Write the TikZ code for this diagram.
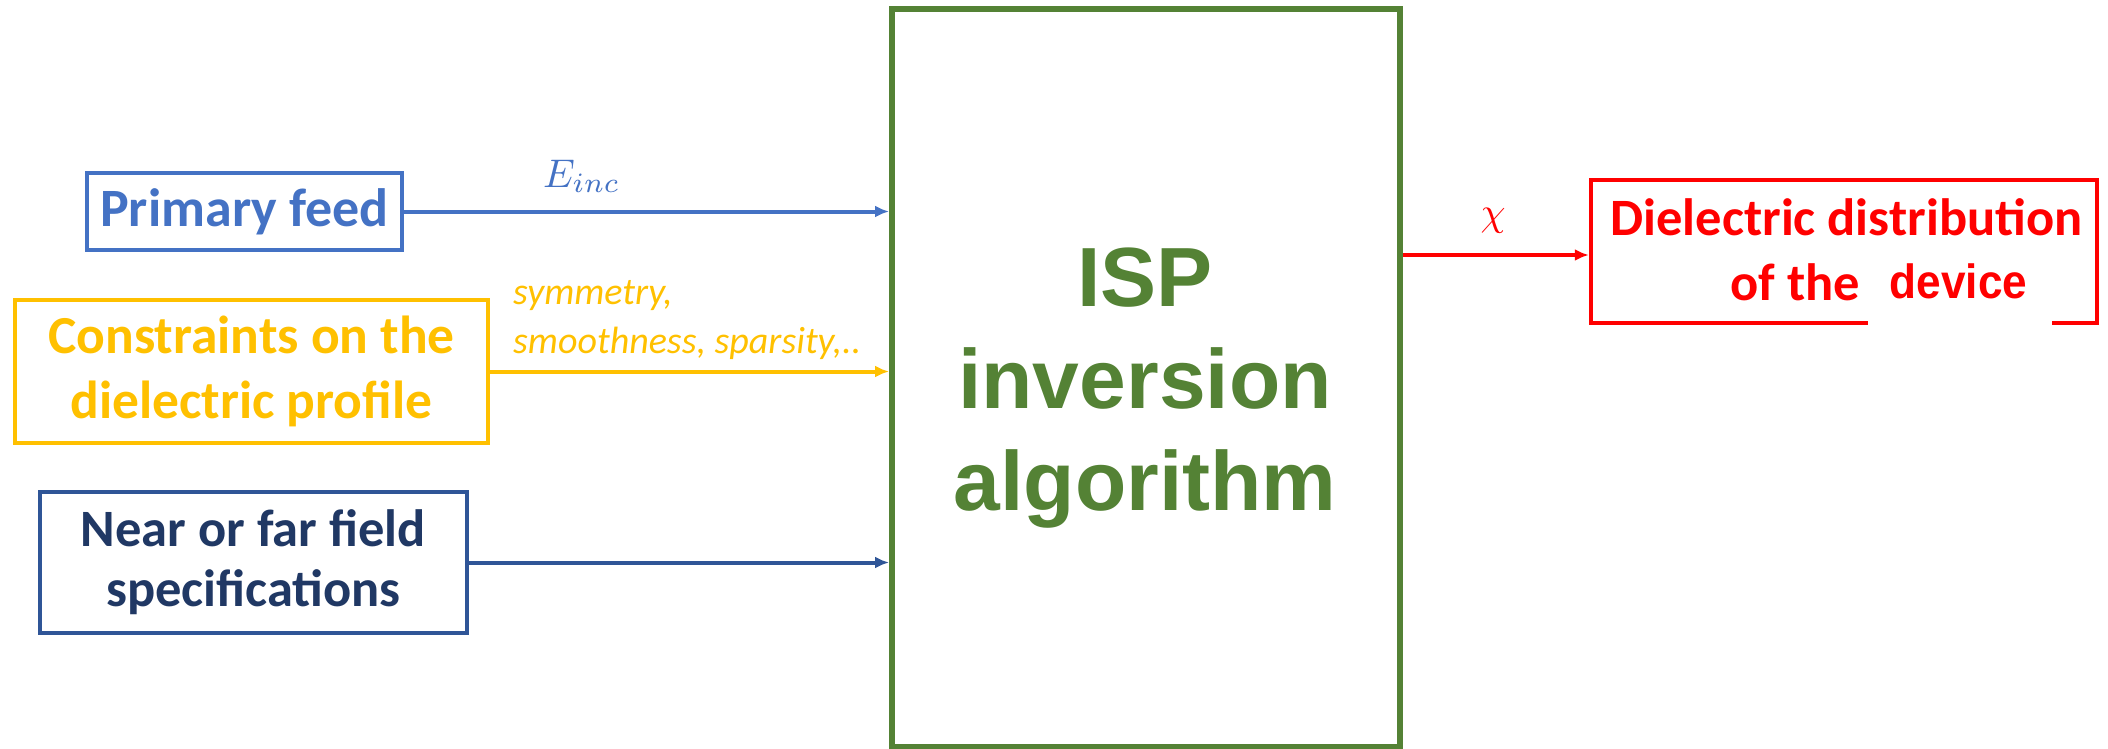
\documentclass[tikz,border=0pt]{standalone}
\usepackage{fontspec}
\usepackage{graphicx}
\usetikzlibrary{arrows.meta}
\newfontfamily\calfont{Carlito}
\newfontfamily\arialfont{Liberation Sans}
\definecolor{pfblue}{RGB}{68,114,196}
\definecolor{cyellow}{RGB}{255,192,0}
\definecolor{navytext}{RGB}{32,56,100}
\definecolor{navyline}{RGB}{47,85,151}
\definecolor{ispgreen}{RGB}{84,130,53}
\definecolor{dred}{RGB}{255,0,0}
\tikzset{
  inbox/.style={draw, line width=4pt, inner sep=0pt, align=center},
  conn/.style={line width=4pt, -{Latex[length=14pt,width=12pt]}},
  lbl/.style={inner sep=0pt, anchor=west}
}
\begin{document}
\begin{tikzpicture}[x=1pt,y=-1pt]
\useasboundingbox (0,0) rectangle (2108,749);
% central box
\node[draw=ispgreen, line width=6pt, minimum width=508pt, minimum height=738pt, inner sep=0pt] (isp) at (1146,378) {};
\node[text=ispgreen, align=center, inner sep=0pt, font=\arialfont\bfseries\fontsize{84}{102}\selectfont] (isptext) at (1145,388) {ISP\\inversion\\algorithm};
% inputs
\node[inbox, draw=pfblue, text=pfblue, minimum width=315pt, minimum height=77pt, font=\calfont\bfseries\fontsize{54}{64}\selectfont] (pf) at (244.5,211.5) {Primary feed};
\node[inbox, draw=cyellow, text=cyellow, minimum width=473pt, minimum height=143pt, font=\calfont\bfseries\fontsize{53.5}{65}\selectfont] (cons) at (251.5,371.5) {Constraints on the\\dielectric profile};
\node[inbox, draw=navyline, text=navytext, minimum width=427pt, minimum height=141pt, font=\calfont\bfseries\fontsize{52.5}{60}\selectfont] (near) at (253.5,562.5) {Near or far field\\specifications};
% output
\node[draw=dred, line width=4.5pt, minimum width=506pt, minimum height=143pt, inner sep=0pt] (out) at (1844,251.5) {};
\node[text=dred, inner sep=0pt, anchor=base, font=\calfont\bfseries\fontsize{52.5}{60}\selectfont] (outl1) at (1846.5,235) {Dielectric distribution};
\node[text=dred, inner sep=0pt, anchor=base east, font=\calfont\bfseries\fontsize{52.5}{60}\selectfont] (outl2) at (1860,300) {of the};
\node[fill=white, inner sep=0pt, minimum width=184pt, minimum height=70pt] (devbg) at (1960,293) {};
\node[text=dred, inner sep=0pt, anchor=base, font=\arialfont\bfseries\fontsize{48}{56}\selectfont] (dev) at (1958.5,298) {\scalebox{0.92}[1]{device}};
% connectors
\draw[conn, pfblue] (pf.east) -- (pf.east -| isp.west);
\draw[conn, cyellow] (cons.east) -- (cons.east -| isp.west);
\draw[conn, navyline] (near.east) -- (near.east -| isp.west);
\coordinate (chiy) at (0,255);
\draw[conn, dred] (isp.east |- chiy) -- (out.west |- chiy);
% labels
\node[inner sep=0pt, anchor=base west, text=pfblue] (einc) at (543,187) {\scalebox{4}{$E_{inc}$}};
\node[lbl, text=cyellow, font=\calfont\itshape\fontsize{38}{44}\selectfont] (sym1) at (513,296) {symmetry,};
\node[lbl, text=cyellow, font=\calfont\itshape\fontsize{38}{44}\selectfont] (sym2) at (513,343) {smoothness, sparsity,..};
\node[text=dred, inner sep=0pt] (chi) at (1493,221) {\scalebox{4}{$\chi$}};
\end{tikzpicture}
\end{document}
